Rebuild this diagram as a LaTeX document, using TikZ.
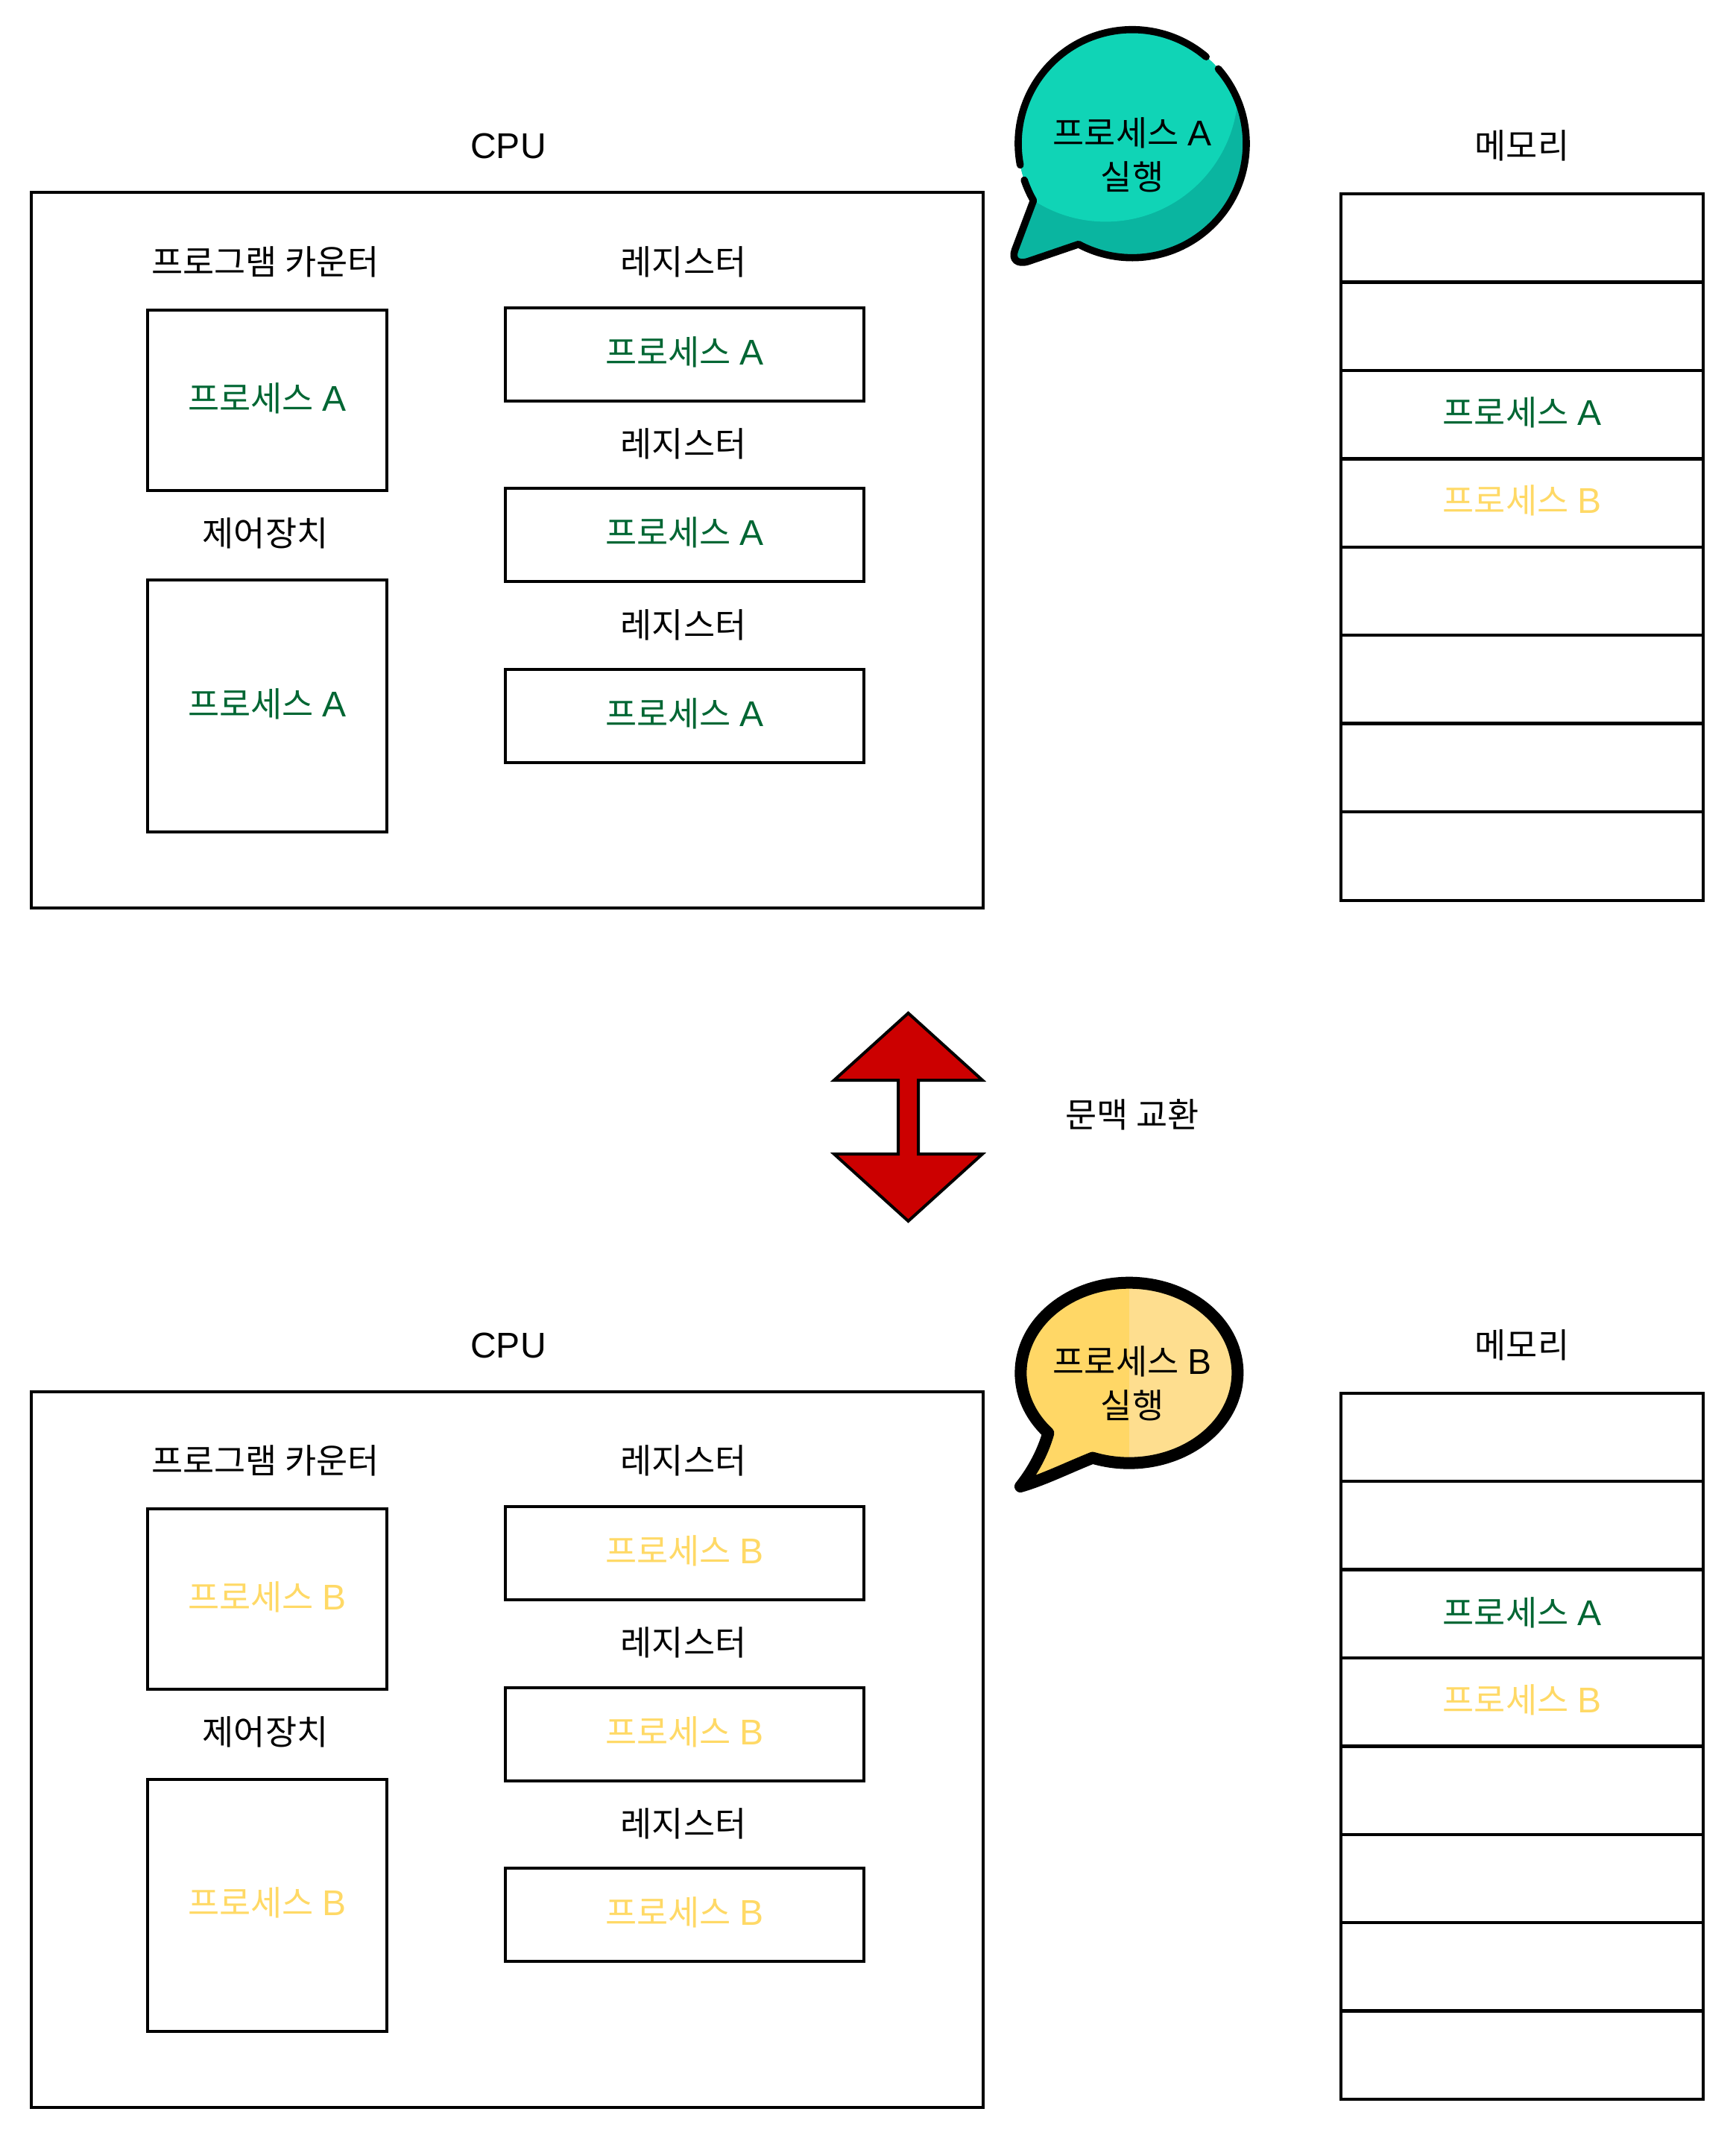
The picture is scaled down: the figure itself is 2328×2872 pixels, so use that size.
\documentclass[tikz,border=0pt]{standalone}
\usepackage{fontspec}
\setmainfont{Liberation Sans}
\newfontfamily\krfont{Noto Sans CJK KR}
\definecolor{procgreen}{HTML}{006633}
\definecolor{procyellow}{HTML}{FFD966}
\definecolor{swapred}{HTML}{CC0000}
\definecolor{tealfill}{HTML}{10D4B6}
\definecolor{tealshade}{HTML}{0AB5A0}
\definecolor{goldfill}{HTML}{FFD766}
\definecolor{goldshade}{HTML}{FEDE8F}
\newcommand{\procA}{프로세스\hspace{3pt}{\fontsize{12}{14.75}\selectfont\rmfamily A}}
\newcommand{\procB}{프로세스\hspace{3pt}{\fontsize{12}{14.75}\selectfont\rmfamily B}}

\begin{document}
\begin{tikzpicture}[x=0.25pt,y=-0.25pt,node distance=29.6pt,line width=1pt,
    every node/.style={font=\fontsize{11.45}{14.75}\selectfont\krfont,inner sep=0pt},
    cpubox/.style={rectangle,draw,minimum width=319.25pt,minimum height=240pt},
    pcbox/.style={rectangle,draw,minimum width=80.25pt,minimum height=60.5pt,text height=9pt,text depth=2pt},
    cubox/.style={rectangle,draw,minimum width=80.25pt,minimum height=84.5pt,text height=9pt,text depth=2pt},
    regbox/.style={rectangle,draw,minimum width=120.25pt,minimum height=31.25pt,text height=9pt,text depth=2pt},
    membox/.style={rectangle,draw,minimum width=121.5pt,minimum height=29.67pt,text height=9pt,text depth=2pt}]

            \useasboundingbox (0,0) rectangle (2328,2872);

            % top half
            \node (cpulabel1) at (682,196) {\fontsize{12}{14.75}\selectfont\rmfamily CPU};
            \node[cpubox] (cpu1) at (680.5,738) {};
            \node (pclabel1) at (356,351) {프로그램 카운터};
            \node[pcbox, text=procgreen] (pc1) at (358.5,537) {\procA};
            \node (culabel1) at (356,715) {제어장치};
            \node[cubox, text=procgreen] (cu1) at (358.5,947) {\procA};
            \node (reglabel11) at (917,351) {레지스터};
            \node[regbox, text=procgreen] (reg11) at (918.5,475) {\procA};
            \node (reglabel12) at (917,595) {레지스터};
            \node[regbox, text=procgreen] (reg12) at (918.5,717.5) {\procA};
            \node (reglabel13) at (917,838) {레지스터};
            \node[regbox, text=procgreen] (reg13) at (918.5,960) {\procA};

            \node (memlabel1) at (2042,195) {메모리};
            \node[membox] (mem11) at (2042,319.4) {};
            \node[membox] (mem12) [below of = mem11]{};
            \node[membox, text=procgreen] (mem13) [below of = mem12]{\procA};
            \node[membox, text=procyellow] (mem14) [below of = mem13]{\procB};
            \node[membox] (mem15) [below of = mem14]{};
            \node[membox] (mem16) [below of = mem15]{};
            \node[membox] (mem17) [below of = mem16]{};
            \node[membox] (mem18) [below of = mem17]{};

            % speech bubble A
            \fill[tealshade] (1386.5,269) arc[start angle=150.1,end angle=478.1,radius=153]
                -- (1379.3,350.7) .. controls (1365,355) and (1356.7,348.3) .. (1361.7,335) -- cycle;
            \begin{scope}
                \clip (1386.5,269) arc[start angle=150.1,end angle=478.1,radius=153]
                    -- (1379.3,350.7) .. controls (1365,355) and (1356.7,348.3) .. (1361.7,335) -- cycle;
                \fill[tealfill] (1483.3,119.7) circle[radius=177.7];
            \end{scope}
            \draw[line width=2.4pt, line cap=round, line join=round]
                (1519,192.7)+(169.2:153) arc[start angle=169.2,end angle=310.4,radius=153];
            \draw[line width=2.4pt, line cap=round, line join=round]
                (1519,192.7)+(319:153) arc[start angle=319,end angle=478.1,radius=153]
                -- (1379.3,350.7) .. controls (1365,355) and (1356.7,348.3) .. (1361.7,335)
                -- (1386.5,269) arc[start angle=150.1,end angle=161.4,radius=153];
            \node[align=center] (bubbletext1) at (1519,208) {\procA\\실행};

            % context switch arrow
            \draw[fill=swapred, line width=1pt] (1218.5,1359) -- (1318,1449) -- (1232,1449) -- (1232,1548)
                -- (1318,1548) -- (1218.5,1638) -- (1119,1548) -- (1205,1548) -- (1205,1449) -- (1119,1449) -- cycle;
            \node (swaplabel) at (1519,1495) {문맥 교환};

            % bottom half
            \node (cpulabel2) at (682,1804.5) {\fontsize{12}{14.75}\selectfont\rmfamily CPU};
            \node[cpubox] (cpu2) at (680.5,2346.5) {};
            \node (pclabel2) at (356,1959.5) {프로그램 카운터};
            \node[pcbox, text=procyellow] (pc2) at (358.5,2145) {\procB};
            \node (culabel2) at (356,2323.5) {제어장치};
            \node[cubox, text=procyellow] (cu2) at (358.5,2555.5) {\procB};
            \node (reglabel21) at (917,1959.5) {레지스터};
            \node[regbox, text=procyellow] (reg21) at (918.5,2083.5) {\procB};
            \node (reglabel22) at (917,2203.5) {레지스터};
            \node[regbox, text=procyellow] (reg22) at (918.5,2326) {\procB};
            \node (reglabel23) at (917,2446.5) {레지스터};
            \node[regbox, text=procyellow] (reg23) at (918.5,2568.5) {\procB};

            \node (memlabel2) at (2042,1804) {메모리};
            \node[membox] (mem21) at (2042,1928) {};
            \node[membox] (mem22) [below of = mem21]{};
            \node[membox, text=procgreen, text depth=1pt] (mem23) [below of = mem22]{\procA};
            \node[membox, text=procyellow] (mem24) [below of = mem23]{\procB};
            \node[membox] (mem25) [below of = mem24]{};
            \node[membox] (mem26) [below of = mem25]{};
            \node[membox] (mem27) [below of = mem26]{};
            \node[membox] (mem28) [below of = mem27]{};

            % speech bubble B
            \fill[goldfill] (1406.4,1922.3) arc[start angle=138.2,end angle=469.7,x radius=145.5,y radius=121]
                .. controls (1430,1970) and (1400,1985) .. (1369,1994)
                .. controls (1388,1970) and (1400,1945) .. (1406.4,1922.3) -- cycle;
            \begin{scope}
                \clip (1406.4,1922.3) arc[start angle=138.2,end angle=469.7,x radius=145.5,y radius=121]
                    .. controls (1430,1970) and (1400,1985) .. (1369,1994)
                    .. controls (1388,1970) and (1400,1945) .. (1406.4,1922.3) -- cycle;
                \fill[goldshade] (1515,1690) rectangle (1700,2030);
            \end{scope}
            \draw[line width=4pt, line join=round, line cap=round]
                (1406.4,1922.3) arc[start angle=138.2,end angle=469.7,x radius=145.5,y radius=121]
                .. controls (1430,1970) and (1400,1985) .. (1369,1994)
                .. controls (1388,1970) and (1400,1945) .. (1406.4,1922.3) -- cycle;
            \node[align=center] (bubbletext2) at (1519,1856) {\procB\\실행};

            ;
        \end{tikzpicture}
\end{document}
